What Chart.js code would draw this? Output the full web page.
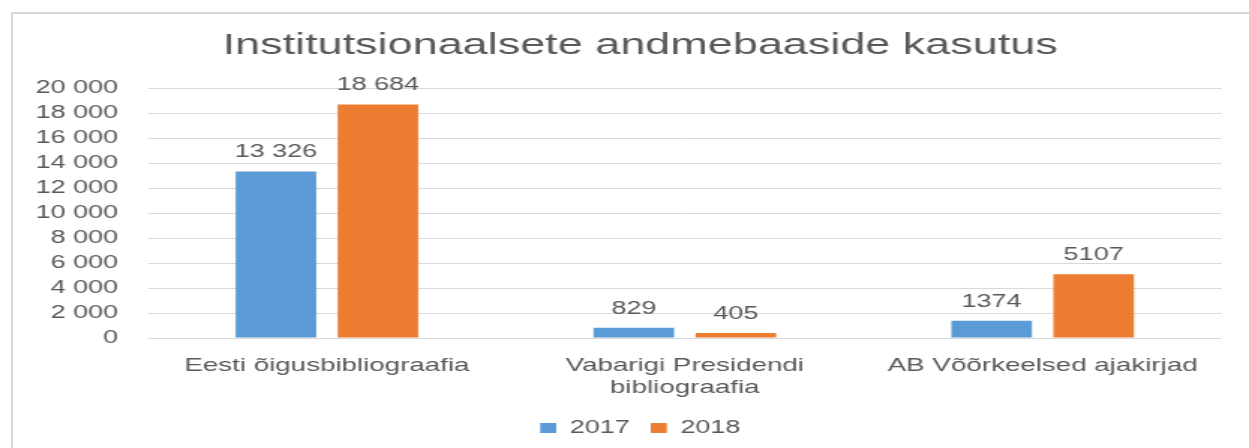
<!DOCTYPE html>
<html>
<head>
<meta charset="utf-8">
<script src="https://cdn.jsdelivr.net/npm/chart.js@4/dist/chart.umd.min.js"></script>
<style>
    html, body { margin: 0; padding: 0; background: #ffffff; overflow: hidden; }
    #marco {
        position: absolute; left: 11px; top: 12px;
        width: 1300px; height: 500px;
        border: 2px solid #d9d9d9;
    }
    #grafica {
        position: absolute; left: 0; top: 0;
        width: 854px; height: 448px;
        transform: scaleX(1.4994);
        transform-origin: 0 0;
    }
</style>
</head>
<body>
<div id="marco"></div>
<canvas id="grafica" width="854" height="448"></canvas>
<script>
// Datos
const categorias = ['Eesti õigusbibliograafia', ['Vabarigi Presidendi', 'bibliograafia'], 'AB Võõrkeelsed ajakirjad'];
const anios = ['2017', '2018'];
const valores2017 = [13326, 829, 1374];
const valores2018 = [18684, 405, 5107];
const ejeMax = 20000;
const ejePaso = 2000;

const colores = ['#5B9BD5', '#ED7D31'];
const gris = '#595959';
const fuente = '"Liberation Sans", Arial, sans-serif';

// Separador de miles con espacio
function agrupar(n) {
    return String(n).replace(/\B(?=(\d{3})+(?!\d))/g, ' ');
}

// En el original solo los valores grandes llevan espacio
function formatoValor(n) {
    return n >= 10000 ? agrupar(n) : String(n);
}

// Plugin para escribir el valor encima de cada barra
const etiquetasDatos = {
    id: 'etiquetasDatos',
    afterDatasetsDraw(chart) {
        const ctx = chart.ctx;
        ctx.save();
        ctx.font = '18px ' + fuente;
        ctx.fillStyle = gris;
        ctx.textAlign = 'center';
        ctx.textBaseline = 'middle';
        chart.data.datasets.forEach((ds, i) => {
            chart.getDatasetMeta(i).data.forEach((barra, j) => {
                ctx.fillText(formatoValor(ds.data[j]), barra.x, barra.y - 19);
            });
        });
        ctx.restore();
    }
};

const ctx = document.getElementById('grafica').getContext('2d');
new Chart(ctx, {
    type: 'bar',
    data: {
        labels: categorias,
        datasets: [
            { label: anios[0], data: valores2017, backgroundColor: colores[0], borderWidth: 0 },
            { label: anios[1], data: valores2018, backgroundColor: colores[1], borderWidth: 0 }
        ]
    },
    options: {
        responsive: false,
        animation: false,
        devicePixelRatio: 1,
        categoryPercentage: 0.57,
        barPercentage: 0.79,
        layout: { padding: { top: 0, left: 0, right: 0, bottom: 1 } },
        plugins: {
            title: {
                display: true,
                text: 'Institutsionaalsete andmebaaside kasutus',
                color: gris,
                font: { family: fuente, size: 30, weight: 'normal' },
                padding: { top: 28, bottom: 24 }
            },
            legend: {
                position: 'bottom',
                labels: {
                    color: gris,
                    font: { family: fuente, size: 18 },
                    boxWidth: 10.7,
                    boxHeight: 10,
                    padding: 14
                }
            },
            tooltip: { enabled: false }
        },
        scales: {
            x: {
                grid: { display: false, drawTicks: false },
                border: { display: false },
                ticks: {
                    color: gris,
                    font: { family: fuente, size: 18.5 },
                    padding: 17,
                    maxRotation: 0,
                    autoSkip: false
                },
                afterFit(scale) { scale.height = 67; }
            },
            y: {
                min: 0,
                max: ejeMax,
                border: { display: false },
                grid: { color: '#d9d9d9', lineWidth: 1, drawTicks: false },
                ticks: {
                    stepSize: ejePaso,
                    autoSkip: false,
                    color: gris,
                    font: { family: fuente, size: 18 },
                    padding: 20,
                    callback: v => agrupar(v)
                },
                afterFit(scale) { scale.width = 98.7; }
            },
            // Eje vacio a la derecha: el marco original sigue fuera de la imagen
            margenDerecho: {
                type: 'linear',
                position: 'right',
                grid: { display: false },
                border: { display: false },
                ticks: { display: false },
                afterFit(scale) { scale.width = 39.3; }
            }
        }
    },
    plugins: [etiquetasDatos]
});
</script>
</body>
</html>
